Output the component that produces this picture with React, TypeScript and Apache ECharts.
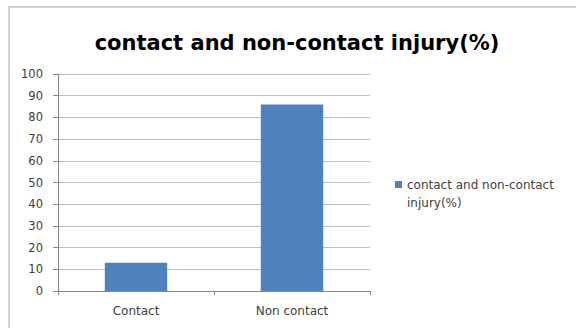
import React, { useEffect, useRef } from "react";
import * as echarts from "echarts";

const categories = ["Contact", "Non contact"];
const seriesName = "contact and non-contact injury(%)";
const values = [13, 86];
const titleText = "contact and non-contact injury(%)";

export default function App() {
  const ref = useRef<HTMLDivElement>(null);
  useEffect(() => {
    const chart = echarts.init(ref.current!, null, { renderer: "svg" });
    chart.setOption({
      animation: false,
      backgroundColor: "#ffffff",
      title: {
        text: titleText,
        left: 292,
        textAlign: "center",
        top: 27,
        textStyle: { fontFamily: "DejaVu Sans", fontWeight: "bold", fontSize: 21, color: "#000000" },
      },
      grid: { left: 58, right: 206, top: 74, bottom: 37 },
      xAxis: {
        type: "category",
        data: categories,
        axisLine: { lineStyle: { color: "#868686", width: 1 } },
        axisTick: { show: true, length: 4, lineStyle: { color: "#868686" } },
        axisLabel: { color: "#404040", fontFamily: "DejaVu Sans", fontSize: 12, margin: 14 },
      },
      yAxis: {
        type: "value",
        min: 0,
        max: 100,
        interval: 10,
        axisLine: { show: true, lineStyle: { color: "#868686", width: 1 } },
        axisTick: { show: true, length: 5, lineStyle: { color: "#868686" } },
        splitLine: { lineStyle: { color: "#bfbfbf", width: 1 } },
        axisLabel: { color: "#404040", fontFamily: "DejaVu Sans", fontSize: 11.5, margin: 15 },
      },
      series: [
        {
          name: seriesName,
          type: "bar",
          data: values,
          barWidth: "40%",
          itemStyle: { color: "#4F81BD" },
        },
      ],
      graphic: [
        {
          type: "rect",
          shape: { x: 9, y: 7, width: 580, height: 340 },
          style: { fill: "none", stroke: "#d0d0d0", lineWidth: 2 },
          silent: true,
        },
        {
          type: "rect",
          shape: { x: 395, y: 181, width: 7, height: 7 },
          style: { fill: "#4F81BD" },
        },
        {
          type: "text",
          x: 407,
          y: 176,
          style: {
            text: "contact and non-contact\ninjury(%)",
            fill: "#404040",
            font: "12px 'DejaVu Sans'",
            lineHeight: 18,
          },
        },
      ],
    });
    return () => chart.dispose();
  }, []);
  return <div ref={ref} style={{ position: "absolute", left: 0, top: 0, width: 576, height: 328 }} />;
}
